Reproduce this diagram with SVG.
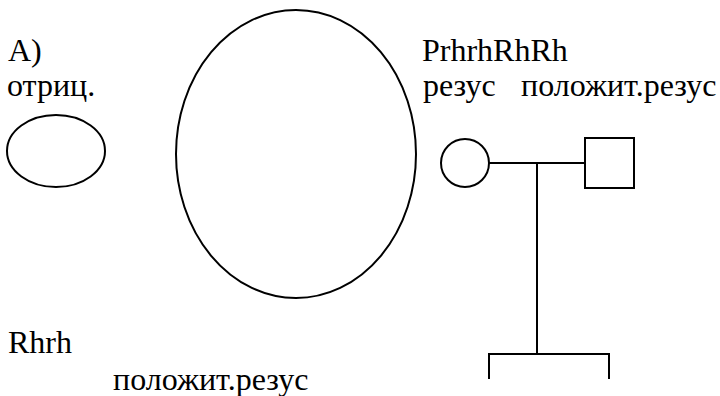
<svg xmlns="http://www.w3.org/2000/svg" width="720" height="396" viewBox="0 0 720 396">
<style>
.s{fill:none;stroke:#000;stroke-width:2}
</style>
<rect width="720" height="396" fill="#fff"/>
<g id="labels">
<text x="8" y="61" font-family="Liberation Serif" font-size="32">A)</text>
<text x="7" y="96" font-family="Liberation Serif" font-size="32">отриц.</text>
<text x="422" y="61" font-family="Liberation Serif" font-size="32">PrhrhRhRh</text>
<text x="423" y="96" font-family="Liberation Serif" font-size="32">резус</text>
<text x="521" y="96" font-family="Liberation Serif" font-size="32">положит.резус</text>
<text x="8" y="353" font-family="Liberation Serif" font-size="32">Rhrh</text>
<text x="113" y="390" font-family="Liberation Serif" font-size="32">положит.резус</text>
</g>
<g id="small-ellipse"><ellipse class="s" cx="56" cy="151" rx="49" ry="36"/></g>
<g id="big-ellipse"><ellipse class="s" cx="296" cy="154" rx="120" ry="144"/></g>
<g id="female"><circle class="s" cx="465" cy="163" r="24"/></g>
<g id="male"><rect class="s" x="585" y="138" width="49" height="50"/></g>
<g id="connectors">
<path class="s" d="M489 163H585M537 163V354M489 379V354H609V379"/>
</g>
</svg>
